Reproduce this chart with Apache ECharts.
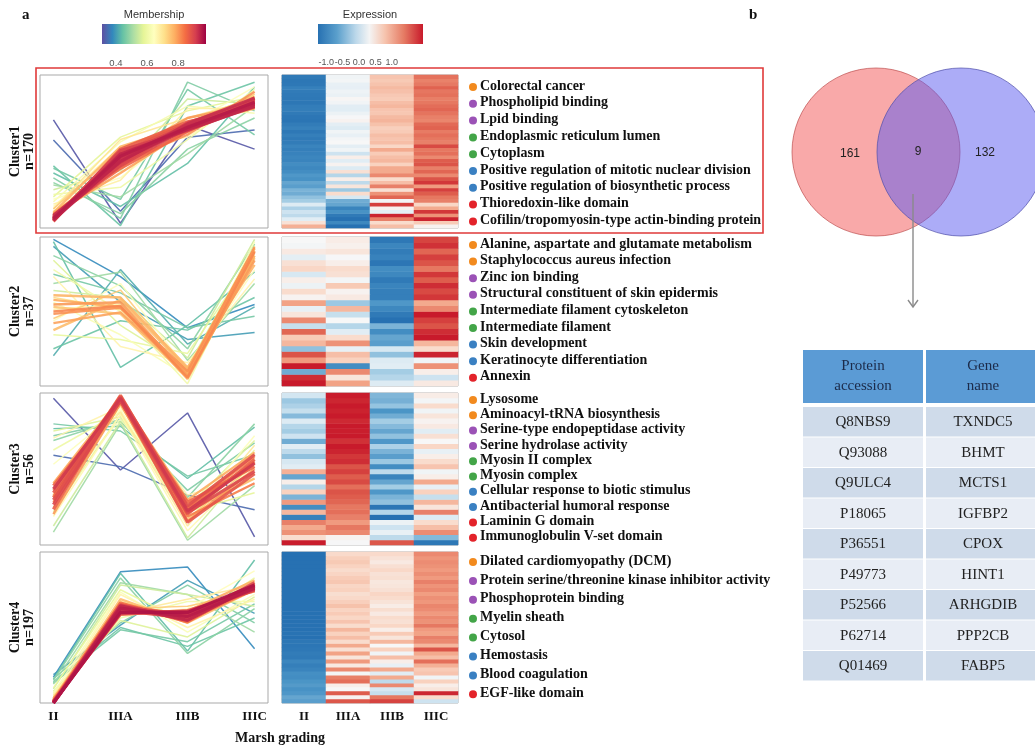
<!DOCTYPE html>
<html>
<head>
<meta charset="utf-8">
<script src="https://cdn.jsdelivr.net/npm/echarts@6/dist/echarts.min.js"></script>
<style>
html,body{margin:0;padding:0;background:#fff}
#chart{width:1035px;height:746px}
</style>
</head>
<body>
<div id="chart"></div>
<script>
// ---------- data ----------
const stages = ['II', 'IIIA', 'IIIB', 'IIIC'];
const membershipTicks = [0.4, 0.6, 0.8];
const expressionTicks = [-1.0, -0.5, 0.0, 0.5, 1.0];

// each profile: [II, IIIA, IIIB, IIIC, membership]
const cluster1Profiles = [
  [0.66, -1.50, 0.55, 0.05, 0.32],
  [0.24, -1.25, 0.30, 0.45, 0.34],
  [-0.30, -1.55, 0.95, 1.45, 0.45],
  [-0.55, -1.40, 1.45, 0.85, 0.47],
  [-0.45, -1.15, -0.25, 1.35, 0.44],
  [-0.65, -1.30, 0.05, 0.70, 0.48],
  [-0.35, -1.00, 1.30, 0.35, 0.46],
  [-0.70, -0.95, -0.05, 0.95, 0.50],
  [-0.80, -0.40, 1.10, 1.00, 0.55],
  [-0.95, 0.30, 0.85, 1.15, 0.58],
  [-0.90, -0.75, 0.25, 1.30, 0.60],
  [-1.05, 0.20, 0.95, 0.80, 0.62],
  [-1.00, -0.55, 0.55, 1.35, 0.64],
  [-1.15, 0.10, 0.30, 1.20, 0.66],
  [-1.10, -0.60, 0.90, 0.90, 0.68],
  [-1.20, 0.25, 0.70, 1.10, 0.70],
  [-1.25, -0.35, 0.70, 0.95, 0.72],
  [-1.20, 0.05, 0.40, 1.20, 0.74],
  [-1.30, -0.30, 0.60, 1.15, 0.76],
  [-1.28, 0.10, 0.55, 0.90, 0.77],
  [-1.32, -0.45, 0.45, 1.05, 0.79],
  [-1.35, -0.10, 0.70, 1.00, 0.80],
  [-1.30, -0.25, 0.35, 1.25, 0.81],
  [-1.38, 0.00, 0.55, 0.95, 0.82],
  [-1.40, -0.05, 0.50, 1.00, 0.84],
  [-1.35, -0.20, 0.55, 1.05, 0.85],
  [-1.42, -0.10, 0.45, 0.98, 0.86],
  [-1.33, -0.35, 0.42, 1.12, 0.86],
  [-1.38, -0.25, 0.52, 1.08, 0.87],
  [-1.46, 0.05, 0.62, 0.92, 0.87],
  [-1.45, -0.02, 0.58, 0.95, 0.88],
  [-1.40, -0.15, 0.48, 1.02, 0.89],
  [-1.36, -0.30, 0.50, 1.10, 0.90],
  [-1.37, -0.28, 0.60, 1.06, 0.90],
  [-1.44, -0.08, 0.55, 1.00, 0.91],
  [-1.42, 0.02, 0.44, 0.96, 0.91],
  [-1.41, -0.18, 0.47, 1.04, 0.92],
  [-1.39, -0.12, 0.53, 1.01, 0.93],
  [-1.34, -0.22, 0.58, 1.12, 0.93],
  [-1.43, -0.20, 0.51, 0.99, 0.94],
  [-1.44, -0.05, 0.46, 0.94, 0.94],
  [-1.40, -0.10, 0.50, 1.03, 0.95]
];

const cluster2Profiles = [
  [1.55, 0.75, -0.35, 0.15, 0.38],
  [1.40, 0.20, -0.60, -0.45, 0.40],
  [-0.95, 0.90, -0.70, 0.10, 0.42],
  [1.50, -1.20, -0.30, 0.85, 0.44],
  [0.80, 0.40, -0.35, -0.10, 0.46],
  [1.20, 0.55, -0.80, 1.45, 0.48],
  [-0.80, -0.20, -0.40, 0.30, 0.45],
  [0.60, 0.85, -1.05, 0.60, 0.50],
  [0.45, 0.30, -1.00, 1.55, 0.55],
  [1.10, -0.30, -1.20, 1.40, 0.57],
  [-0.50, -0.60, -0.90, 1.20, 0.59],
  [0.90, 0.00, -1.55, 1.30, 0.61],
  [0.20, -0.50, -1.40, 1.50, 0.63],
  [-0.20, 0.60, -1.25, 0.90, 0.65],
  [0.75, -0.75, -1.10, 0.70, 0.67],
  [0.05, 0.15, -1.35, 1.35, 0.68],
  [0.30, 0.05, -1.35, 1.25, 0.72],
  [-0.15, 0.46, -1.30, 1.40, 0.74],
  [0.10, -0.05, -1.40, 1.15, 0.75],
  [-0.40, 0.25, -1.25, 1.35, 0.76],
  [0.35, 0.30, -1.20, 1.00, 0.77],
  [0.25, 0.10, -1.45, 1.20, 0.78],
  [-0.25, -0.02, -1.32, 1.30, 0.79],
  [0.15, 0.20, -1.38, 1.10, 0.80],
  [-0.05, 0.08, -1.28, 1.38, 0.81],
  [0.00, 0.12, -1.42, 1.28, 0.82]
];

const cluster3Profiles = [
  [1.49, -0.02, 1.18, -1.43, 0.32],
  [0.29, 0.05, -0.55, -0.86, 0.34],
  [0.85, 0.90, -0.20, 0.88, 0.44],
  [0.70, 1.00, -0.45, 0.55, 0.47],
  [0.95, 0.80, -0.15, 0.30, 0.46],
  [-1.33, 0.95, -1.50, -0.35, 0.50],
  [0.60, 1.05, -0.60, 0.95, 0.48],
  [-1.20, 1.00, -1.45, 0.20, 0.55],
  [0.80, 1.10, -0.80, 0.60, 0.57],
  [-0.90, 1.15, -0.90, -0.50, 0.58],
  [0.40, 1.20, -1.10, 0.40, 0.60],
  [-0.60, 1.05, -0.70, -0.20, 0.62],
  [0.10, 1.25, -1.00, 0.70, 0.64],
  [-1.00, 1.15, -1.30, 0.10, 0.66],
  [0.65, 1.30, -0.55, -0.10, 0.67],
  [-0.30, 1.20, -1.20, 0.50, 0.69],
  [-0.40, 1.40, -0.75, 0.30, 0.72],
  [-0.80, 1.35, -1.05, 0.10, 0.74],
  [-0.55, 1.45, -0.90, -0.20, 0.76],
  [-0.30, 1.50, -0.65, 0.35, 0.78],
  [-0.95, 1.38, -1.10, 0.00, 0.80],
  [-0.45, 1.52, -0.80, 0.25, 0.82],
  [-0.70, 1.48, -1.00, -0.30, 0.83],
  [-0.60, 1.55, -0.85, 0.15, 0.85],
  [-0.35, 1.42, -0.70, 0.05, 0.86],
  [-0.85, 1.50, -0.95, 0.20, 0.87],
  [-0.50, 1.46, -1.12, -0.10, 0.88],
  [-0.65, 1.53, -0.78, 0.30, 0.89],
  [-0.75, 1.44, -0.92, -0.05, 0.90],
  [-0.42, 1.49, -0.88, 0.12, 0.92]
];

const cluster4Profiles = [
  [-1.05, 1.18, 1.28, -0.45, 0.38],
  [-1.00, 0.05, 1.00, 0.30, 0.40],
  [-1.10, 1.15, -0.50, 1.43, 0.44],
  [-1.15, 0.00, -0.40, 0.20, 0.45],
  [-1.08, 0.10, 0.90, 0.10, 0.47],
  [-1.12, 1.05, -0.55, 0.40, 0.48],
  [-1.20, 0.95, 0.70, -0.10, 0.50],
  [-1.18, -0.05, -0.30, 0.50, 0.46],
  [-1.30, 0.90, 0.70, 0.45, 0.55],
  [-1.35, 0.15, -0.20, 0.65, 0.57],
  [-1.28, 0.80, 0.10, 1.05, 0.59],
  [-1.40, 0.20, 0.55, 0.55, 0.61],
  [-1.38, 0.75, -0.10, 0.70, 0.63],
  [-1.42, 0.25, 0.40, 1.20, 0.65],
  [-1.45, 0.70, 0.00, 0.60, 0.67],
  [-1.44, 0.30, 0.60, 0.90, 0.69],
  [-1.50, 0.55, 0.20, 0.95, 0.72],
  [-1.48, 0.40, 0.45, 0.75, 0.74],
  [-1.52, 0.60, 0.10, 0.80, 0.76],
  [-1.50, 0.30, 0.35, 1.00, 0.78],
  [-1.55, 0.50, 0.25, 0.85, 0.80],
  [-1.53, 0.35, 0.30, 0.90, 0.81],
  [-1.56, 0.45, 0.15, 0.80, 0.83],
  [-1.55, 0.38, 0.28, 0.88, 0.84],
  [-1.56, 0.52, 0.12, 0.92, 0.85],
  [-1.58, 0.42, 0.22, 0.82, 0.86],
  [-1.57, 0.33, 0.30, 0.86, 0.87],
  [-1.57, 0.28, 0.36, 0.78, 0.87],
  [-1.58, 0.40, 0.25, 0.90, 0.88],
  [-1.59, 0.36, 0.20, 0.84, 0.89],
  [-1.59, 0.48, 0.18, 0.95, 0.90],
  [-1.58, 0.44, 0.27, 0.80, 0.90],
  [-1.59, 0.37, 0.24, 0.87, 0.91],
  [-1.58, 0.30, 0.34, 0.80, 0.92],
  [-1.60, 0.39, 0.26, 0.85, 0.93],
  [-1.60, 0.46, 0.15, 0.88, 0.94],
  [-1.60, 0.41, 0.23, 0.83, 0.95],
  [-1.60, 0.32, 0.32, 0.90, 0.96]
];

const clusterNames = ['Cluster1', 'Cluster2', 'Cluster3', 'Cluster4'];
const clusterSizes = [170, 37, 56, 197];

// enrichment terms: [label, category]
const cluster1Terms = [
  ['Colorectal cancer', 'kegg'],
  ['Phospholipid binding', 'mf'],
  ['Lpid binding', 'mf'],
  ['Endoplasmic reticulum lumen', 'cc'],
  ['Cytoplasm', 'cc'],
  ['Positive regulation of mitotic nuclear division', 'bp'],
  ['Positive regulation of biosynthetic process', 'bp'],
  ['Thioredoxin-like domain', 'dom'],
  ['Cofilin/tropomyosin-type actin-binding protein', 'dom']
];
const cluster2Terms = [
  ['Alanine, aspartate and glutamate metabolism', 'kegg'],
  ['Staphylococcus aureus infection', 'kegg'],
  ['Zinc ion binding', 'mf'],
  ['Structural constituent of skin epidermis', 'mf'],
  ['Intermediate filament cytoskeleton', 'cc'],
  ['Intermediate filament', 'cc'],
  ['Skin development', 'bp'],
  ['Keratinocyte differentiation', 'bp'],
  ['Annexin', 'dom']
];
const cluster3Terms = [
  ['Lysosome', 'kegg'],
  ['Aminoacyl-tRNA biosynthesis', 'kegg'],
  ['Serine-type endopeptidase activity', 'mf'],
  ['Serine hydrolase activity', 'mf'],
  ['Myosin II complex', 'cc'],
  ['Myosin complex', 'cc'],
  ['Cellular response to biotic stimulus', 'bp'],
  ['Antibacterial humoral response', 'bp'],
  ['Laminin G domain', 'dom'],
  ['Immunoglobulin V-set domain', 'dom']
];
const cluster4Terms = [
  ['Dilated cardiomyopathy (DCM)', 'kegg'],
  ['Protein serine/threonine kinase inhibitor activity', 'mf'],
  ['Phosphoprotein binding', 'mf'],
  ['Myelin sheath', 'cc'],
  ['Cytosol', 'cc'],
  ['Hemostasis', 'bp'],
  ['Blood coagulation', 'bp'],
  ['EGF-like domain', 'dom']
];

const vennCounts = [161, 9, 132];
const tableHeader = ['Protein\naccession', 'Gene\nname'];
const proteinAccessions = ['Q8NBS9', 'Q93088', 'Q9ULC4', 'P18065', 'P36551', 'P49773', 'P52566', 'P62714', 'Q01469'];
const geneNames = ['TXNDC5', 'BHMT', 'MCTS1', 'IGFBP2', 'CPOX', 'HINT1', 'ARHGDIB', 'PPP2CB', 'FABP5'];

// ---------- styling ----------
const SERIF = '"Liberation Serif", "Times New Roman", serif';
const SANS = '"Liberation Sans", Arial, sans-serif';
const categoryColors = { kegg: '#f28a1e', mf: '#9b52b6', cc: '#43a548', bp: '#3a80c2', dom: '#e3232a' };
const membershipPalette = ['#5e4fa2', '#3288bd', '#66c2a5', '#abdda4', '#e6f598', '#ffffbf', '#fee08b', '#fdae61', '#f46d43', '#d53e4f', '#9e0142'];
const membershipRange = [0.31, 0.98];
const expressionPalette = ['#2771b2', '#4a94c6', '#9cc8e2', '#dbeaf3', '#f7f7f7', '#f9d5c3', '#f2a386', '#e0624f', '#c81a2b'];
const expressionRange = [-1.25, 1.95];

const profiles = [cluster1Profiles, cluster2Profiles, cluster3Profiles, cluster4Profiles];
const termLists = [cluster1Terms, cluster2Terms, cluster3Terms, cluster4Terms];

// panel geometry
const panels = [
  { top: 75, height: 153 },
  { top: 237, height: 149 },
  { top: 393, height: 152 },
  { top: 552, height: 151 }
];
const termLayout = [
  { y0: 86, step: 16.8 },
  { y0: 244, step: 16.6 },
  { y0: 399, step: 15.3 },
  { y0: 561, step: 18.9 }
];

function hexToRgb(h) {
  const n = parseInt(h.slice(1), 16);
  return [(n >> 16) & 255, (n >> 8) & 255, n & 255];
}
function paletteColor(palette, range, v) {
  let t = (v - range[0]) / (range[1] - range[0]);
  t = Math.max(0, Math.min(1, t));
  const pos = t * (palette.length - 1);
  const i = Math.min(palette.length - 2, Math.floor(pos));
  const f = pos - i;
  const a = hexToRgb(palette[i]), b = hexToRgb(palette[i + 1]);
  const c = a.map((x, k) => Math.round(x + (b[k] - x) * f));
  return 'rgb(' + c.join(',') + ')';
}
function lineWidthFor(m) {
  if (m >= 0.85) return 3.2;
  if (m >= 0.75) return 2.4;
  return 1.5;
}

const chart = echarts.init(document.getElementById('chart'), null, { renderer: 'canvas' });

const grids = [], xAxes = [], yAxes = [], series = [];
const heatSeriesIdx = [];

panels.forEach((p, i) => {
  // profile line panel
  grids.push({ left: 40, width: 228, top: p.top, height: p.height, show: true, borderColor: '#a9a9a9', borderWidth: 1, backgroundColor: '#fff' });
  xAxes.push({
    gridIndex: grids.length - 1, type: 'value', min: -0.2, max: 3.2,
    axisLine: { show: false }, axisTick: { show: false }, splitLine: { show: false },
    axisLabel: {
      show: i === 3, customValues: [0, 1, 2, 3], margin: 7,
      formatter: v => stages[Math.round(v)] || '',
      fontFamily: SERIF, fontWeight: 'bold', fontSize: 13, color: '#111'
    }
  });
  yAxes.push({ gridIndex: grids.length - 1, type: 'value', min: -1.6, max: 1.6, show: false });
  const lineIdx = grids.length - 1;
  const ordered = profiles[i].slice().sort((a, b) => a[4] - b[4]);
  ordered.forEach(pr => {
    series.push({
      type: 'line', xAxisIndex: lineIdx, yAxisIndex: lineIdx,
      data: [0, 1, 2, 3].map(k => [k, pr[k]]),
      symbol: 'none', silent: true, animation: false,
      lineStyle: { color: paletteColor(membershipPalette, membershipRange, pr[4]), width: lineWidthFor(pr[4]), opacity: 0.9 }
    });
  });
});

panels.forEach((p, i) => {
  // expression heatmap panel
  grids.push({ left: 282, width: 176, top: p.top, height: p.height, show: true, borderColor: '#a9a9a9', borderWidth: 1 });
  const gi = grids.length - 1;
  xAxes.push({
    gridIndex: gi, type: 'category', data: stages,
    axisLine: { show: false }, axisTick: { show: false }, splitLine: { show: false },
    axisLabel: { show: i === 3, margin: 7, fontFamily: SERIF, fontWeight: 'bold', fontSize: 13, color: '#111' }
  });
  yAxes.push({ gridIndex: gi, type: 'category', data: profiles[i].map((_, r) => r), show: false });
  const data = [];
  profiles[i].forEach((pr, r) => { for (let c = 0; c < 4; c++) data.push([c, r, pr[c]]); });
  heatSeriesIdx.push(series.length);
  series.push({ type: 'heatmap', xAxisIndex: gi, yAxisIndex: gi, data, silent: true, animation: false });
});

// colour-bar axes
grids.push({ left: 102, width: 104, top: 24, height: 20, show: false });
xAxes.push({
  gridIndex: grids.length - 1, type: 'value', min: membershipRange[0], max: membershipRange[1],
  axisLine: { show: false }, axisTick: { show: false }, splitLine: { show: false },
  axisLabel: { customValues: membershipTicks, hideOverlap: false, formatter: v => v.toFixed(1), fontFamily: SANS, fontSize: 9.5, color: '#555', margin: 14 }
});
yAxes.push({ gridIndex: grids.length - 1, type: 'value', show: false });
series.push({ type: 'line', xAxisIndex: grids.length - 1, yAxisIndex: grids.length - 1, data: [] });

grids.push({ left: 318, width: 105, top: 24, height: 20, show: false });
xAxes.push({
  gridIndex: grids.length - 1, type: 'value', min: expressionRange[0], max: expressionRange[1],
  axisLine: { show: false }, axisTick: { show: false }, splitLine: { show: false },
  axisLabel: { customValues: expressionTicks, hideOverlap: false, formatter: v => v.toFixed(1), fontFamily: SANS, fontSize: 9, color: '#555', margin: 14 }
});
yAxes.push({ gridIndex: grids.length - 1, type: 'value', show: false });
series.push({ type: 'line', xAxisIndex: grids.length - 1, yAxisIndex: grids.length - 1, data: [] });

// ---------- graphic elements ----------
const g = [];
function txt(x, y, text, font, opts) {
  g.push(Object.assign({ type: 'text', x, y, silent: true, style: Object.assign({ text, font, fill: '#111', textAlign: 'left', textVerticalAlign: 'middle' }, (opts && opts.style) || {}) }, (opts && opts.el) || {}));
}

txt(22, 15, 'a', 'bold 15px ' + SERIF);
txt(749, 15, 'b', 'bold 15px ' + SERIF);
txt(154, 15, 'Membership', '11px ' + SANS, { style: { textAlign: 'center', fill: '#333' } });
txt(370, 15, 'Expression', '11px ' + SANS, { style: { textAlign: 'center', fill: '#333' } });

g.push({
  type: 'rect', silent: true, shape: { x: 102, y: 24, width: 104, height: 20 },
  style: { fill: new echarts.graphic.LinearGradient(0, 0, 1, 0, membershipPalette.map((c, k) => ({ offset: k / (membershipPalette.length - 1), color: c }))) }
});
g.push({
  type: 'rect', silent: true, shape: { x: 318, y: 24, width: 105, height: 20 },
  style: { fill: new echarts.graphic.LinearGradient(0, 0, 1, 0, [
    { offset: 0, color: '#2771b2' }, { offset: 0.18, color: '#5a9fcc' }, { offset: 0.36, color: '#bcd8ea' },
    { offset: 0.49, color: '#f4f4f4' }, { offset: 0.64, color: '#f6c3ad' }, { offset: 0.82, color: '#e57a63' }, { offset: 1, color: '#c81a2b' }
  ]) }
});

// highlighted cluster frame
g.push({ type: 'rect', silent: true, shape: { x: 36, y: 68, width: 727, height: 165 }, style: { fill: 'none', stroke: '#e03a3a', lineWidth: 1.6 } });

// cluster labels
panels.forEach((p, i) => {
  const cy = p.top + p.height / 2;
  txt(15, cy, clusterNames[i], 'bold 14px ' + SERIF, { style: { textAlign: 'center' }, el: { rotation: Math.PI / 2 } });
  txt(29, cy, 'n=' + clusterSizes[i], 'bold 14px ' + SERIF, { style: { textAlign: 'center' }, el: { rotation: Math.PI / 2 } });
});

// enrichment terms
termLists.forEach((terms, i) => {
  const L = termLayout[i];
  terms.forEach((t, k) => {
    const y = L.y0 + k * L.step;
    g.push({ type: 'circle', silent: true, shape: { cx: 473, cy: y + 1, r: 4 }, style: { fill: categoryColors[t[1]] } });
    txt(480, y, t[0], 'bold 14px ' + SERIF);
  });
});

txt(280, 738, 'Marsh grading', 'bold 14px ' + SERIF, { style: { textAlign: 'center' } });

// Venn diagram
g.push({ type: 'circle', silent: true, shape: { cx: 876, cy: 152, r: 84 }, style: { fill: 'rgba(243,83,83,0.5)', stroke: 'rgba(190,80,80,0.7)', lineWidth: 1 } });
g.push({ type: 'circle', silent: true, shape: { cx: 961, cy: 152, r: 84 }, style: { fill: 'rgba(89,89,239,0.5)', stroke: 'rgba(80,80,170,0.7)', lineWidth: 1 } });
txt(850, 154, String(vennCounts[0]), '12px ' + SANS, { style: { textAlign: 'center', fill: '#222' } });
txt(918, 152, String(vennCounts[1]), '12px ' + SANS, { style: { textAlign: 'center', fill: '#222' } });
txt(985, 153, String(vennCounts[2]), '12px ' + SANS, { style: { textAlign: 'center', fill: '#222' } });

// arrow to table
g.push({ type: 'line', silent: true, shape: { x1: 913, y1: 194, x2: 913, y2: 307 }, style: { stroke: '#8a8a8a', lineWidth: 1.4 } });
g.push({ type: 'polyline', silent: true, shape: { points: [[908, 300], [913, 307], [918, 300]] }, style: { stroke: '#8a8a8a', lineWidth: 1.4, fill: 'none' } });

// overlap table
const colX = [803, 926], colW = [120, 109], colC = [863, 983];
for (let c = 0; c < 2; c++) {
  g.push({ type: 'rect', silent: true, shape: { x: colX[c], y: 350, width: colW[c], height: 53 }, style: { fill: '#5b9bd5' } });
  txt(colC[c], 376, tableHeader[c], '15px ' + SERIF, { style: { textAlign: 'center', fill: '#1c2b4a', lineHeight: 20 } });
}
const rowTop = 407, rowH = 30.5;
proteinAccessions.forEach((acc, r) => {
  const y = rowTop + r * rowH;
  const fill = r % 2 === 0 ? '#cfdbea' : '#e8edf5';
  for (let c = 0; c < 2; c++) {
    g.push({ type: 'rect', silent: true, shape: { x: colX[c], y: y, width: colW[c], height: rowH - 1 }, style: { fill } });
  }
  txt(colC[0], y + rowH / 2, acc, '15px ' + SERIF, { style: { textAlign: 'center', fill: '#222' } });
  txt(colC[1], y + rowH / 2, geneNames[r], '15px ' + SERIF, { style: { textAlign: 'center', fill: '#222' } });
});

chart.setOption({
  animation: false,
  backgroundColor: '#fff',
  grid: grids,
  xAxis: xAxes,
  yAxis: yAxes,
  visualMap: [{
    type: 'continuous', show: false, seriesIndex: heatSeriesIdx, dimension: 2,
    min: -1.5, max: 1.5, inRange: { color: expressionPalette }
  }],
  series,
  graphic: { elements: g }
});
</script>
</body>
</html>
